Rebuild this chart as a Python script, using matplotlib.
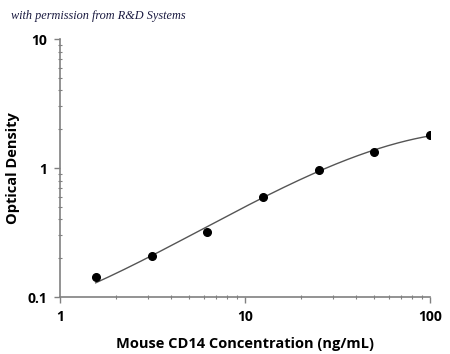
import numpy as np
import matplotlib.pyplot as plt
from matplotlib.ticker import LogLocator, NullFormatter, FixedLocator, FixedFormatter

# standard concentrations (ng/mL) and mean optical density
conc = [1.56, 3.125, 6.25, 12.5, 25, 50, 100]
od = [0.144, 0.208, 0.317, 0.60, 0.97, 1.34, 1.80]

# fitted standard curve
curve_x = [1.56, 3.125, 6.25, 12.5, 25, 50, 100]
curve_y = [0.130, 0.205, 0.35, 0.60, 0.96, 1.33, 1.80]

x_ticks = [1, 10, 100]
x_labels = ['1', '10', '100']
y_ticks = [0.1, 1, 10]
y_labels = ['0.1', '1', '10']

plt.rcParams['font.family'] = ['Open Sans', 'DejaVu Sans']

fig = plt.figure(figsize=(4.5, 3.54), dpi=100)
ax = fig.add_axes([0.1333, 0.161, 0.8222, 0.7288])

# smooth the curve in log-log space
c = np.polyfit(np.log10(curve_x), np.log10(curve_y), 3)
lx = np.linspace(np.log10(curve_x[0]), np.log10(curve_x[-1]), 200)
ax.plot(10 ** lx, 10 ** np.polyval(c, lx), color='#555555', lw=1.0, zorder=2)
ax.plot(conc, od, 'o', color='black', ms=5.5, zorder=3)

ax.set_xscale('log')
ax.set_yscale('log')
ax.set_xlim(1, 100)
ax.set_ylim(0.1, 10)

ax.xaxis.set_major_locator(FixedLocator(x_ticks))
ax.xaxis.set_major_formatter(FixedFormatter(x_labels))
ax.yaxis.set_major_locator(FixedLocator(y_ticks))
ax.yaxis.set_major_formatter(FixedFormatter(y_labels))
ax.xaxis.set_minor_locator(LogLocator(base=10, subs=np.arange(2, 10)))
ax.yaxis.set_minor_locator(LogLocator(base=10, subs=np.arange(2, 10)))
ax.xaxis.set_minor_formatter(NullFormatter())
ax.yaxis.set_minor_formatter(NullFormatter())

for s in ['top', 'right']:
    ax.spines[s].set_visible(False)
for s in ['left', 'bottom']:
    ax.spines[s].set_color('#808080')
    ax.spines[s].set_linewidth(1.2)

ax.tick_params(which='major', length=4, width=1, color='#808080', direction='out',
               labelsize=10, pad=5)
ax.tick_params(which='minor', length=3, width=0.8, color='#808080', direction='inout')
for lab in ax.get_xticklabels() + ax.get_yticklabels():
    lab.set_fontweight('bold')

ax.set_xlabel('Mouse CD14 Concentration (ng/mL)', fontsize=10.5, fontweight='bold', labelpad=10)
ax.set_ylabel('Optical Density', fontsize=10.5, fontweight='bold', va='center')
ax.yaxis.set_label_coords(-0.128, 0.5)

fig.text(0.024, 0.955, 'with permission from R&D Systems', fontsize=8.8, style='italic',
         family=['Liberation Serif', 'DejaVu Serif'], color='#1a1a40', va='center')

fig.savefig('out.png', dpi=100)
